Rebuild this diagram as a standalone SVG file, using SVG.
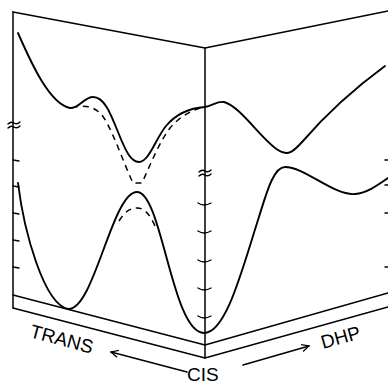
<svg xmlns="http://www.w3.org/2000/svg" width="388" height="385" viewBox="0 0 388 385">
<style>
.ln{fill:none;stroke:#000;stroke-width:1.5;stroke-linecap:round;stroke-linejoin:round}
.cv{fill:none;stroke:#000;stroke-width:1.9;stroke-linecap:round;stroke-linejoin:round}
.ds{fill:none;stroke:#000;stroke-width:1.5;stroke-dasharray:6,5}
.tk{fill:none;stroke:#000;stroke-width:1.4;stroke-linecap:round}
.lb{font-family:"Liberation Sans",Arial,sans-serif;font-size:19px;fill:#000}
</style>
<defs>
<marker id="ah" viewBox="0 0 10 10" refX="9" refY="5" markerWidth="9" markerHeight="9" orient="auto" markerUnits="userSpaceOnUse">
<path d="M1,1 L9,5 L1,9" fill="none" stroke="#000" stroke-width="1.4"/>
</marker>
</defs>
<rect width="388" height="385" fill="#fff"/>
<g id="frame">
<path class="ln" d="M13,12 L205,48 L388,11"/>
<path class="ln" d="M13,12 L13,308"/>
<path class="ln" d="M205,48 L205,358"/>
<path class="ln" d="M13,295 L205,345 L388,293"/>
<path class="ln" d="M13,308 L205,358 L388,307"/>
</g>
<g id="ticks">
<path class="tk" d="M8,124 Q11,121 14,123 T20,122 M8,128 Q11,125 14,127 T20,126"/>
<path class="tk" d="M13,160 L19,161 M13,186 L19,187 M13,213 L19,214 M13,240 L19,241 M13,267 L19,268"/>
<path class="tk" d="M199,172 Q202,169 205,171 T211,170 M199,176 Q202,173 205,175 T211,174"/>
<path class="tk" d="M198,203 Q204,207 211,203 M198,231 Q204,235 211,231 M198,260 Q204,264 211,260 M198,288 Q204,292 211,288 M198,316 Q204,320 211,316"/>
<path class="tk" d="M385,160 L388,160 M385,185 L388,185 M385,213 L388,213 M385,267 L388,267"/>
</g>
<g id="curves">
<path class="cv" d="M18,33 C32,65 50,104 70,108 C79,109 84,97 93,97 C104,97 110,112 118,132 C126,152 131,162 139,162 C149,162 156,138 166,126 C176,114 190,108 205,107 C213,105 218,101 224,102 C240,106 262,140 278,150 C288,157 294,151 303,141 C328,112 355,88 385,66"/>
<path class="ds" d="M72,108 C84,104 96,106 104,118 C114,134 124,164 133,183 L142,183 C151,163 160,141 170,128 C180,116 192,110 204,107"/>
<path class="cv" d="M18,183 C24,232 44,304 68,309 C94,311 112,192 137,192 C162,192 172,333 204,333 C226,333 242,270 258,220 C266,195 273,167 285,167 C305,167 334,196 355,194 C367,193 378,185 388,178"/>
<path class="ds" d="M119,221 C125,211 131,208 137,208 C145,208 150,215 155,226"/>
</g>
<g id="connectors">
<path class="ln" d="M187,372 L111,352" marker-end="url(#ah)"/>
<path class="ln" d="M243,365 L309,346" marker-end="url(#ah)"/>
</g>
<g id="labels">
<text class="lb" transform="translate(29,337) rotate(15)">TRANS</text>
<text class="lb" x="187" y="381">CIS</text>
<text class="lb" transform="translate(323,349) rotate(-15.5)">DHP</text>
</g>
</svg>
